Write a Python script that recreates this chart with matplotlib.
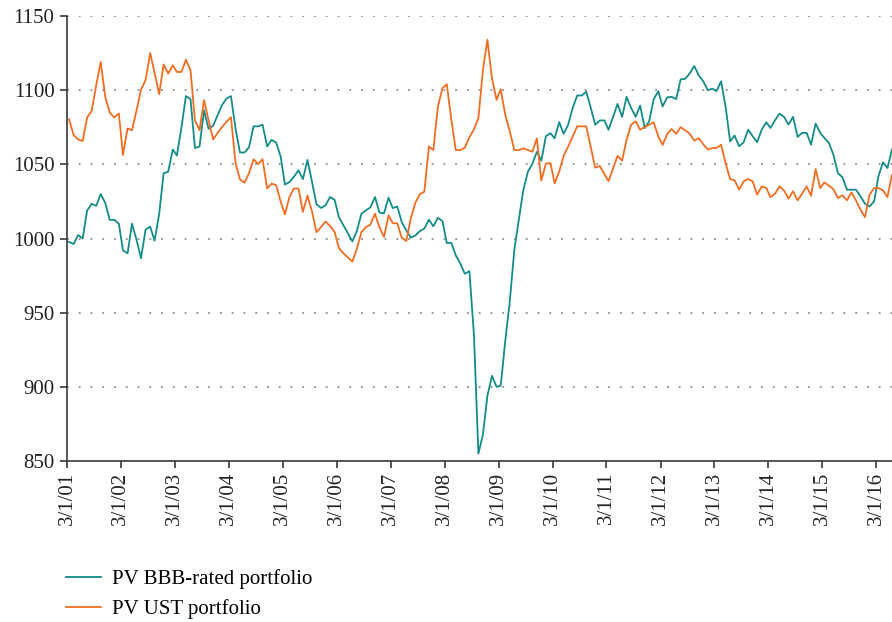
import matplotlib
matplotlib.use("Agg")
import matplotlib.pyplot as plt
import matplotlib.dates as mdates
import pandas as pd

# monthly observations, mid-month, March 2001 .. June 2016
dates = pd.date_range("2001-03-01", periods=184, freq="MS") + pd.Timedelta(days=14)

pv_bbb = [
    997.7, 996.3, 1002.3, 1000, 1018.8, 1023.4, 1022, 1030, 1024, 1012.6,
    1012.6, 1010, 992, 990, 1010, 999, 986.7, 1006, 1008, 998.6,
    1016.5, 1044, 1045, 1060, 1056, 1075, 1096, 1094, 1061, 1062,
    1086.5, 1074, 1076, 1083, 1090, 1094.5, 1096, 1074, 1058, 1058,
    1061.5, 1075.6, 1075.6, 1076.7, 1062, 1066.5, 1064.7, 1055, 1036.4, 1038,
    1041.6, 1046, 1040, 1053, 1038, 1023, 1020.6, 1022.4, 1028, 1026,
    1014.5, 1009, 1003.6, 998, 1005, 1016.7, 1019, 1021, 1028, 1017.5,
    1017, 1027.5, 1020.5, 1021.5, 1011.2, 1005.5, 1000.6, 1002, 1005, 1006.7,
    1012.7, 1008.2, 1014, 1011.6, 997, 997, 988.6, 983, 976.2, 978,
    935, 855, 868, 894, 907.4, 900, 900.7, 931, 957, 992,
    1012.3, 1032.6, 1045, 1050.2, 1058.5, 1052.5, 1069, 1071, 1067.5, 1078.5,
    1070.6, 1076.7, 1088, 1096.4, 1096.4, 1099, 1088, 1076.7, 1079.6, 1079.6,
    1073.3, 1082, 1090.7, 1082, 1095.5, 1088, 1082, 1089.6, 1074.4, 1079,
    1094, 1099.3, 1089, 1095.2, 1095.5, 1094, 1107.2, 1107.7, 1111.3, 1116.3,
    1110, 1106, 1100, 1101, 1099.3, 1106, 1089.2, 1065.5, 1069.4, 1062.2,
    1064.9, 1073.4, 1068.9, 1064.9, 1073.4, 1078.4, 1074.5, 1079.7, 1084.2, 1082,
    1076.8, 1082, 1068.5, 1071.2, 1071.2, 1063.3, 1077.5, 1071.2, 1067.8, 1064.4,
    1056.5, 1044, 1041.4, 1032.9, 1032.9, 1032.9, 1028.4, 1023.4, 1021.6, 1025,
    1041.9, 1051.4, 1047.5, 1060,
]

pv_ust = [
    1080.3, 1069.7, 1066.8, 1065.7, 1081.6, 1086, 1103.4, 1119, 1095.5, 1084.8,
    1081.6, 1084.3, 1056.3, 1074.2, 1073, 1086.5, 1100.4, 1106.7, 1125, 1111.7,
    1097.3, 1117.3, 1111.2, 1116.8, 1112.3, 1112.3, 1120.6, 1113.5, 1079.8, 1073,
    1093.3, 1079.8, 1066.8, 1071, 1075.2, 1078.8, 1081.8, 1050.7, 1039.8, 1037.6,
    1044, 1053.4, 1050.2, 1053.4, 1033.7, 1037, 1036, 1024.7, 1016.3, 1028,
    1033.7, 1033.7, 1018, 1029, 1018, 1004.3, 1007.7, 1011.5, 1008.4, 1004.3,
    993.7, 990, 987.3, 984.4, 993, 1004.3, 1007.7, 1009.3, 1016.7, 1007.5,
    1001, 1015.6, 1010.4, 1010.2, 1000.6, 998.3, 1013.4, 1024, 1029.9, 1031.5,
    1062, 1059.6, 1089, 1101.4, 1104, 1080, 1059.6, 1059.6, 1061.2, 1068.2,
    1073.6, 1081, 1113.8, 1134, 1108, 1093.5, 1100.7, 1083.3, 1072.5, 1059.6,
    1059.6, 1060.8, 1059.6, 1058.5, 1067.5, 1039, 1050.6, 1050.8, 1037.2, 1045,
    1055.7, 1062, 1068.8, 1075.6, 1075.6, 1075.6, 1061.5, 1047.7, 1048.9, 1043.4,
    1038.7, 1047.3, 1055.7, 1052.5, 1066.5, 1076.7, 1079, 1073.3, 1075.1, 1076.7,
    1078.3, 1068.8, 1063.1, 1070.4, 1073.8, 1070.6, 1075.1, 1072.9, 1070.6, 1066,
    1067.6, 1063.6, 1060, 1061, 1061, 1063.2, 1050.9, 1040.1, 1039.2, 1032.9,
    1038.5, 1040.1, 1038.5, 1029.5, 1035.1, 1034, 1027.9, 1030.2, 1035.1, 1032.4,
    1026.8, 1031.8, 1025.7, 1030.2, 1035.1, 1028.8, 1046.8, 1034, 1037.8, 1035.6,
    1033.3, 1027.3, 1029.1, 1025.7, 1031.1, 1025.7, 1019.4, 1014.4, 1029.5, 1034,
    1034, 1032.4, 1027.9, 1043,
]

yticks = [850, 900, 950, 1000, 1050, 1100, 1150]
xtick_years = list(range(2001, 2017))

teal = "#148c89"
orange = "#f26d22"

plt.rcParams["font.family"] = "Liberation Serif"

fig = plt.figure(figsize=(8.92, 6.22), dpi=100)
ax = fig.add_axes([67 / 892, 161 / 622, 1 - 67 / 892, 445 / 622])

l1, = ax.plot(dates, pv_bbb, color=teal, lw=1.3, label="PV BBB-rated portfolio")
l2, = ax.plot(dates, pv_ust, color=orange, lw=1.3, label="PV UST portfolio")

ax.set_ylim(850, 1150)
ax.set_yticks(yticks)
ax.set_xlim(pd.Timestamp("2001-03-01"), dates[-1])
ax.set_xticks([pd.Timestamp(f"{y}-03-01") for y in xtick_years])
ax.xaxis.set_major_formatter(mdates.DateFormatter("3/1/%y"))

for y in yticks[1:]:
    ax.axhline(y, color="#7a7a7a", lw=1.1, linestyle=(0, (1.2, 6.5)), zorder=0)

for s in ["top", "right"]:
    ax.spines[s].set_visible(False)
for s in ["left", "bottom"]:
    ax.spines[s].set_color("#3a3a3a")
    ax.spines[s].set_linewidth(1.2)

ax.tick_params(axis="both", direction="out", length=5, width=1.2, color="#3a3a3a",
               labelsize=15, labelcolor="#222222")
ax.tick_params(axis="x", labelrotation=90, pad=3)
ax.tick_params(axis="y", pad=4)

fig.legend(handles=[l1, l2], loc="upper left", bbox_to_anchor=(66 / 892, 1 - 569 / 622),
           frameon=False, fontsize=15, handlelength=1.7, handletextpad=0.5,
           labelspacing=0.5, borderaxespad=0, borderpad=0)

fig.savefig("out.png", dpi=100)
